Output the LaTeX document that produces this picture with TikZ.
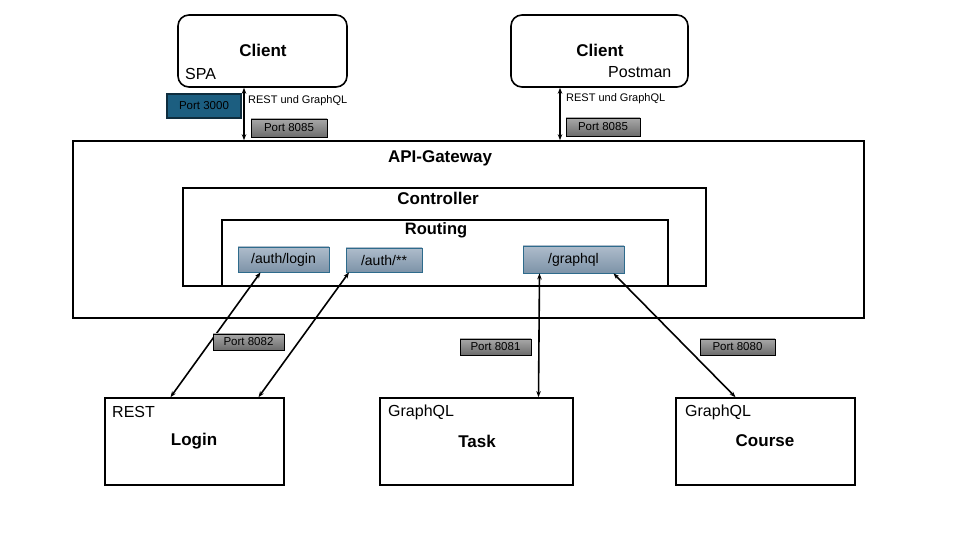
\documentclass[tikz,border=0pt]{standalone}
\usepackage{fontspec}
\setmainfont{Liberation Sans}
\usetikzlibrary{arrows.meta}
\definecolor{portgrayA}{HTML}{A8A8A8}
\definecolor{portgrayB}{HTML}{6C6C6C}
\definecolor{routeA}{HTML}{AEBCCB}
\definecolor{routeB}{HTML}{7D93A8}
\definecolor{routeline}{HTML}{2E6B8C}
\definecolor{tealfill}{HTML}{1C5E80}
\definecolor{tealline}{HTML}{0E2D3E}
\tikzset{
  box/.style={draw=black, line width=1.6pt, fill=white, inner sep=0pt},
  clientbox/.style={box, rounded corners=11pt},
  frame/.style={draw=black, line width=1.6pt, inner sep=0pt},
  title/.style={font=\fontsize{17}{19}\selectfont\bfseries, inner sep=0pt},
  sub/.style={font=\fontsize{16}{18}\selectfont, inner sep=0pt, anchor=west},
  port/.style={draw=black, line width=0.6pt, top color=portgrayA, bottom color=portgrayB,
    font=\fontsize{11.5}{13}\selectfont, inner sep=0pt},
  route/.style={draw=routeline, line width=0.8pt, top color=routeA, bottom color=routeB,
    font=\fontsize{14}{16}\selectfont, inner sep=0pt},
  note/.style={font=\fontsize{11}{13}\selectfont, inner sep=0pt, anchor=west},
  link/.style={line width=1.6pt, {Stealth[length=6pt,width=4.5pt]}-{Stealth[length=6pt,width=4.5pt]}},
}
\begin{document}
\begin{tikzpicture}[x=1pt,y=-1pt]
\useasboundingbox (0,0) rectangle (959,534);

% clients
\node[clientbox, minimum width=169pt, minimum height=72pt] (spa) at (262.5,51) {};
\node[title] at (263,50) {Client};
\node[sub] at (185,74) {SPA};
\node[clientbox, minimum width=177pt, minimum height=72pt] (postman) at (599.5,51) {};
\node[title] at (600,50) {Client};
\node[sub] at (608,72) {Postman};

% gateway and its nested parts
\node[frame, minimum width=791pt, minimum height=177pt] (gw) at (468.5,229.5) {};
\node[title] at (440,158) {API-Gateway};
\node[frame, minimum width=523pt, minimum height=98pt] (ctrl) at (444.5,237) {};
\node[title] at (438,198) {Controller};
\node[frame, minimum width=446pt, minimum height=66pt] (rout) at (445,253) {};
\node[title, font=\fontsize{16.5}{18}\selectfont\bfseries] at (436,230) {Routing};

\node[route, minimum width=91pt, minimum height=25pt] (alogin) at (283.5,259.5) {/auth/login};
\node[route, minimum width=76pt, minimum height=24pt] (aall) at (384,260) {/auth/**};
\node[route, minimum width=101pt, minimum height=27pt] (gql) at (573.5,259.5) {/graphql};

% services
\node[box, minimum width=179pt, minimum height=87pt] (login) at (194.5,441.5) {};
\node[sub] at (112,412) {REST};
\node[title] at (194,441) {Login};
\node[box, minimum width=193pt, minimum height=87pt] (task) at (476.5,441.5) {};
\node[sub] at (388,412) {GraphQL};
\node[title] at (477,441) {Task};
\node[box, minimum width=179pt, minimum height=87pt] (course) at (765.5,441.5) {};
\node[sub] at (685,412) {GraphQL};
\node[title] at (765,441) {Course};

% connectors
\draw[link] ([xshift=-18.5pt]spa.south) -- ([xshift=-18.5pt]spa.south |- gw.north);
\draw[link] ([xshift=-39.5pt]postman.south) -- ([xshift=-39.5pt]postman.south |- gw.north);
\draw[link] ([xshift=-23pt]alogin.south) -- ([xshift=-24pt]login.north);
\draw[link] ([xshift=-35pt]aall.south) -- ([xshift=64pt]login.north);
\draw[link] ([xshift=-34pt]gql.south) -- ([xshift=62pt]task.north);
\draw[link] ([xshift=40pt]gql.south) -- ([xshift=-30pt]course.north);

% port and protocol labels
\node[draw=tealline, line width=1.2pt, fill=tealfill, minimum width=74pt, minimum height=24pt,
  font=\fontsize{11.5}{13}\selectfont, inner sep=0pt] (p3000) at (204,106) {Port 3000};
\node[note] at (248,101) {REST und GraphQL};
\node[port, minimum width=76pt, minimum height=18pt] (p8085a) at (289,128) {Port 8085};
\node[note] at (566,99) {REST und GraphQL};
\node[port, minimum width=74pt, minimum height=18pt] (p8085b) at (603,127) {Port 8085};
\node[port, minimum width=71pt, minimum height=16pt] (p8082) at (248.5,342) {Port 8082};
\node[port, minimum width=71pt, minimum height=16pt] (p8081) at (495.5,347) {Port 8081};
\node[port, minimum width=75pt, minimum height=16pt] (p8080) at (737.5,347) {Port 8080};
\end{tikzpicture}
\end{document}
